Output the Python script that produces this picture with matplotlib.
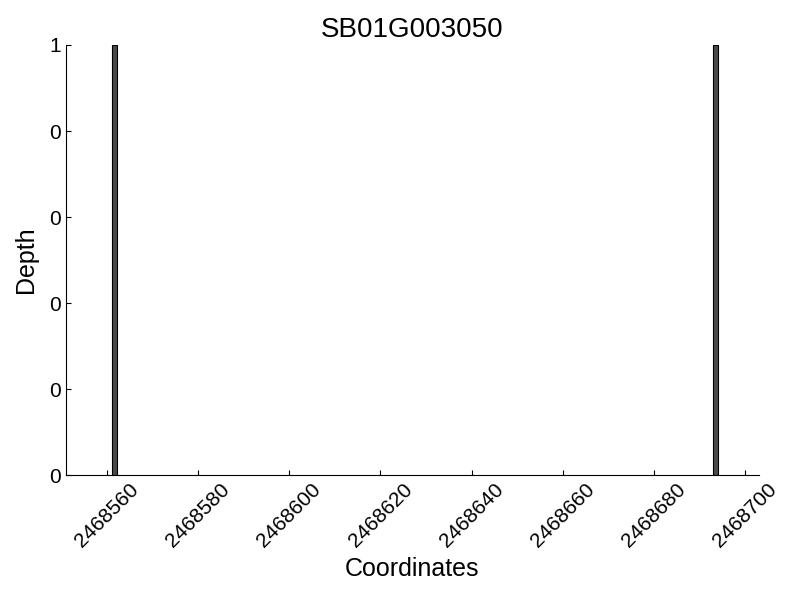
import matplotlib
matplotlib.use("Agg")
import matplotlib.pyplot as plt
from matplotlib.ticker import FormatStrFormatter

plt.rcParams['font.family'] = ['Liberation Sans', 'DejaVu Sans']

# per-base depth for the gene region
title = "SB01G003050"
positions = [2468561, 2468693]
depth = [1, 1]
x_ticks = [2468560, 2468580, 2468600, 2468620, 2468640, 2468660, 2468680, 2468700]
y_ticks = [0, 0.2, 0.4, 0.6, 0.8, 1.0]

fig = plt.figure(figsize=(8, 6), dpi=100)
ax = fig.add_axes([0.0825, 0.208, 0.866, 0.717])

ax.bar(positions, depth, width=1.1, align='edge', color='#4a4a4a', edgecolor='black', linewidth=0.8)

ax.set_xlim(2468551, 2468703)
ax.set_ylim(0, 1)
ax.set_xticks(x_ticks)
ax.set_yticks(y_ticks)
ax.yaxis.set_major_formatter(FormatStrFormatter('%d'))
ax.xaxis.set_major_formatter(FormatStrFormatter('%d'))

ax.spines['top'].set_visible(False)
ax.spines['right'].set_visible(False)
ax.tick_params(direction='in', labelsize=15, top=False, right=False)
plt.setp(ax.get_xticklabels(), rotation=45)

ax.set_title(title, fontsize=20)
ax.set_xlabel("Coordinates", fontsize=18)
ax.set_ylabel("Depth", fontsize=18, labelpad=8)

fig.savefig("out.png", dpi=100)
